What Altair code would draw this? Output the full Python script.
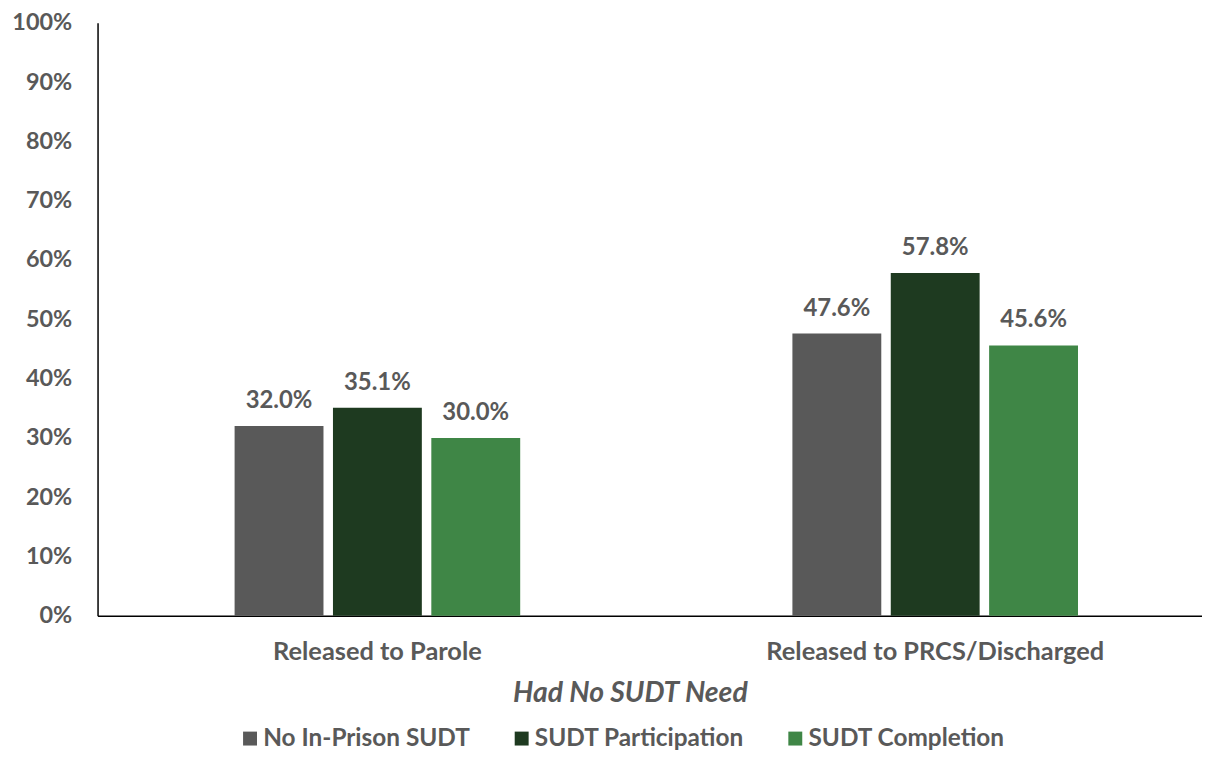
import altair as alt
import pandas as pd

categories = ["Released to Parole", "Released to PRCS/Discharged"]
series = ["No In-Prison SUDT", "SUDT Participation", "SUDT Completion"]
parole = [32.0, 35.1, 30.0]
prcs = [47.6, 57.8, 45.6]
colors = ["#595959", "#1e3a20", "#3f8646"]
y_ticks = [0, 0.1, 0.2, 0.3, 0.4, 0.5, 0.6, 0.7, 0.8, 0.9, 1.0]

rows = []
for cat, vals in zip(categories, [parole, prcs]):
    for s, v in zip(series, vals):
        rows.append({"category": cat, "series": s, "value": v / 100, "label": f"{v:.1f}%"})
df = pd.DataFrame(rows)

FONT = "Lato"
GRAY = "#595959"
FS = 24

base = alt.Chart(df).encode(
    x=alt.X(
        "category:N",
        sort=categories,
        scale=alt.Scale(paddingInner=0.488, paddingOuter=0.234, align=0.525),
        axis=alt.Axis(
            title="Had No SUDT Need",
            labelAngle=0,
            labelFont=FONT,
            labelFontSize=25.5,
            labelFontWeight="bold",
            labelColor=GRAY,
            labelBaseline="middle",
            labelPadding=36,
            labelLimit=0,
            ticks=False,
            tickSize=0,
            domainColor="#000000",
            domainWidth=1.5,
            titleFont=FONT,
            titleFontSize=28.5,
            titleFontWeight="bold",
            titleFontStyle="italic",
            titleColor=GRAY,
            titleX=535,
            titleY=77,
            titleAlign="center",
            titleBaseline="middle",
        ),
    ),
    xOffset=alt.XOffset("series:N", sort=series, scale=alt.Scale(paddingInner=0.0964)),
    y=alt.Y(
        "value:Q",
        scale=alt.Scale(domain=[0, 1]),
        axis=alt.Axis(
            title=None,
            values=y_ticks,
            format=".0%",
            grid=False,
            ticks=False,
            tickSize=0,
            labelFont=FONT,
            labelFontSize=23.5,
            labelFontWeight="bold",
            labelColor=GRAY,
            labelPadding=26,
            domainColor="#000000",
            domainWidth=1.5,
        ),
    ),
)

bars = base.mark_bar().encode(
    color=alt.Color(
        "series:N",
        sort=series,
        scale=alt.Scale(domain=series, range=colors),
        legend=alt.Legend(
            title=None,
            orient="none",
            direction="horizontal",
            legendX=141,
            legendY=707,
            symbolType="square",
            symbolSize=196,
            symbolStrokeWidth=0,
            labelFont=FONT,
            labelFontSize=24.5,
            labelFontWeight="bold",
            labelColor=GRAY,
            labelOffset=1,
            columnPadding=39,
            labelLimit=400,
        ),
    )
)

text = base.mark_text(
    baseline="alphabetic", dy=-18, font=FONT, fontSize=FS, fontWeight="bold", color=GRAY
).encode(text="label:N")

chart = (
    (bars + text)
    .properties(
        width=1110,
        height=596,
        autosize=alt.AutoSizeParams(type="none"),
        padding={"left": 90, "top": 13, "right": 0, "bottom": 134},
        background="white",
    )
    .configure_view(stroke=None)
)

chart.save("out.html", embed_options={"renderer": "svg", "actions": False})
